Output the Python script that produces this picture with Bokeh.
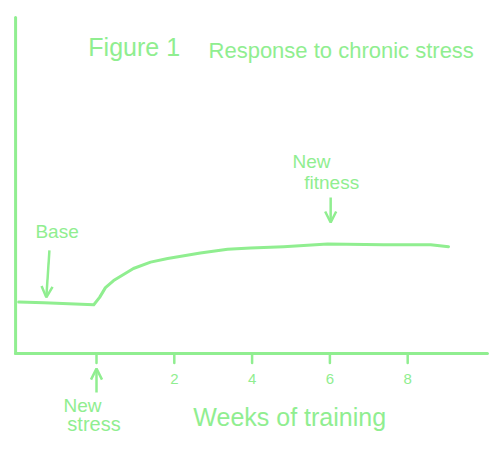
from bokeh.plotting import figure
from bokeh.models import Label, Arrow, OpenHead, Range1d
from bokeh.embed import file_html
from bokeh.resources import INLINE
from bokeh.core.properties import value

GREEN = "#90EE90"
FONT = "Liberation Sans"

# response curve (weeks of training vs. fitness level, arbitrary units)
weeks = [-2.0, -1.35, -0.07, 0.08, 0.23, 0.44, 0.95, 1.39, 1.83, 2.67, 3.37, 3.96, 4.81, 5.94, 7.38, 8.59, 9.05]
fitness = [1.53, 1.51, 1.45, 1.67, 1.96, 2.17, 2.53, 2.72, 2.83, 2.99, 3.10, 3.14, 3.18, 3.26, 3.24, 3.24, 3.18]

# hand-drawn axes extent (data units)
x_axis_extent = [-2.08, 10.05]
y_axis_extent = [0, 10]

tick_values = [0, 2, 4, 6, 8]
tick_labels = ["", "2", "4", "6", "8"]

p = figure(width=500, height=450, output_backend="svg", toolbar_location=None,
           x_range=Range1d(-2.468, 10.386), y_range=Range1d(-2.887, 10.506),
           min_border=0)
p.outline_line_color = None
p.grid.visible = False
p.axis.visible = False
p.background_fill_color = "white"
p.border_fill_color = "white"

# axes lines
p.segment(x0=[x_axis_extent[0]], y0=[y_axis_extent[0]], x1=[x_axis_extent[1]], y1=[y_axis_extent[0]],
          line_color=GREEN, line_width=3, line_cap="round")
p.segment(x0=[x_axis_extent[0]], y0=[y_axis_extent[0]], x1=[x_axis_extent[0]], y1=[y_axis_extent[1]],
          line_color=GREEN, line_width=3, line_cap="round")

# ticks and tick labels
p.segment(x0=tick_values, y0=[0] * len(tick_values), x1=tick_values, y1=[-0.28] * len(tick_values),
          line_color=GREEN, line_width=2.5, line_cap="round")
p.text(x=tick_values, y=[-0.6] * len(tick_values), text=tick_labels,
       text_color=GREEN, text_font=value(FONT), text_font_size="15px",
       text_align="center", text_baseline="top")

# curve
p.line(weeks, fitness, line_color=GREEN, line_width=3, line_cap="round", line_join="round")

def lab(x, y, t, size, align="left"):
    p.add_layout(Label(x=x, y=y + 0.24, text=t, text_color=GREEN, text_font=FONT,
                       text_font_size=size, text_align=align, text_baseline="alphabetic"))

lab(-0.21, 8.87, "Figure 1", "25px")
lab(2.88, 8.78, "Response to chronic stress", "22px")
lab(-1.57, 3.40, "Base", "19px")
lab(5.04, 5.48, "New", "19px")
lab(5.34, 4.85, "fitness", "19px")
lab(-0.85, -1.79, "New", "19px")
lab(-0.75, -2.35, "stress", "20px")
lab(2.49, -2.14, "Weeks of training", "25px")

def arr(x0, y0, x1, y1):
    p.add_layout(Arrow(x_start=x0, y_start=y0, x_end=x1, y_end=y1,
                       line_color=GREEN, line_width=2.5,
                       end=OpenHead(size=11, line_color=GREEN, line_width=2.5)))

arr(-1.21, 3.07, -1.29, 1.67)
arr(6.02, 4.64, 6.02, 3.9)
arr(0.0, -1.16, 0.0, -0.45)

open("out.html", "w").write(file_html(p, INLINE))
